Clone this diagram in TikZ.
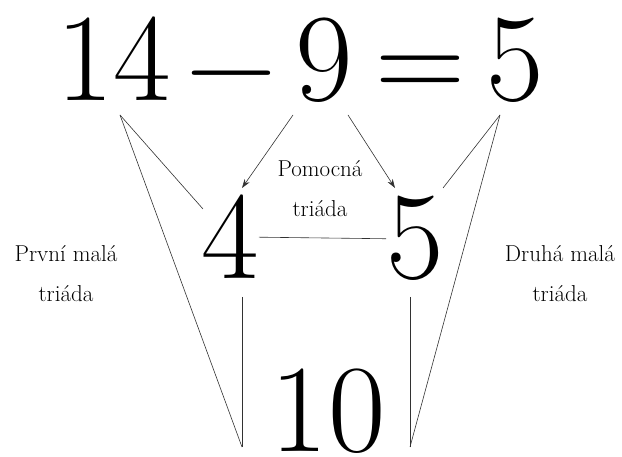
\documentclass[tikz,border=0pt]{standalone}
\usepackage{fontspec}
\usetikzlibrary{arrows.meta,positioning}
\definecolor{lineclr}{RGB}{50,50,50}

\begin{document}
\begin{tikzpicture}[x=1pt,y=-1pt,
  bignum/.style={inner sep=0pt, anchor=base, font=\fontsize{125}{125}\selectfont},
  smalltxt/.style={inner sep=0pt, anchor=base, align=center, font=\fontsize{23}{40}\selectfont},
  conn/.style={draw=lineclr, line width=0.6pt},
  arr/.style={conn, -{Stealth[length=9pt,width=6pt]}}]
  \useasboundingbox (0,0) rectangle (622,457);
  % Equation
  \node[bignum] (n14) at (114,101) {14};
  \node[bignum] (minus) at (231,105) {−};
  \node[bignum] (n9) at (324,101) {9};
  \node[bignum] (eq) at (420,101) {=};
  \node[bignum] (n5) at (515,101) {5};
  % Middle and bottom numbers
  \node[bignum] (m4) at (230,279) {4};
  \node[bignum] (m5) at (415,279) {5};
  \node[bignum] (n10) at (328,452) {10};
  % Labels (base = last line)
  \node[smalltxt] (aux) at (320,217) {Pomocná\\triáda};
  \node[smalltxt] (first) at (66,302) {První malá\\triáda};
  \node[smalltxt] (second) at (560,302) {Druhá malá\\triáda};
  % Line ends
  \coordinate (top14) at (120,115);
  \coordinate (top9l) at (293,115);
  \coordinate (top9r) at (348,115);
  \coordinate (top5) at (500,115);
  \coordinate (end4) at (203,209);
  \coordinate (tip4) at (242,188);
  \coordinate (tip5) at (395,188);
  \coordinate (end5) at (443,188);
  \coordinate (low4) at (242,297);
  \coordinate (low10l) at (242,447);
  \coordinate (low5) at (410,297);
  \coordinate (low10r) at (410,447);
  % First small triad
  \draw[conn] (top14) -- (end4);
  \draw[conn] (top14) -- (low10l);
  \draw[conn] (low4) -- (low10l);
  % Auxiliary triad
  \draw[arr] (top9l) -- (tip4);
  \draw[arr] (top9r) -- (tip5);
  \draw[conn] (m4.east) -- (m5.west);
  % Second small triad
  \draw[conn] (top5) -- (end5);
  \draw[conn] (top5) -- (low10r);
  \draw[conn] (low5) -- (low10r);
\end{tikzpicture}
\end{document}
